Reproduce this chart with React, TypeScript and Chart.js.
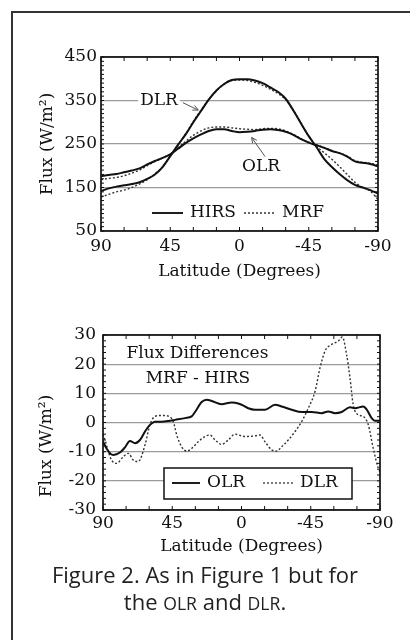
import React, { useEffect, useRef } from "react";
import { Chart, registerables } from "chart.js";

Chart.register(...registerables);

const SERIF = '"DejaVu Serif", "Liberation Serif", serif';
const INK = "#111";
const GRID = "#9b9b9b";
const DOT = "#333";

// ---------- top panel: fluxes (W/m2) vs latitude ----------
const latitudes = [
  90, 85, 80, 75, 70, 65, 60, 55, 50, 45, 40, 35, 30, 25, 20, 15, 10, 5, 0,
  -5, -10, -15, -20, -25, -30, -35, -40, -45, -50, -55, -60, -65, -70, -75, -80, -85, -90,
];
const dlrHirs = [
  142, 148, 152, 155, 158, 162, 170, 180, 197, 222, 248, 272, 300, 326, 352, 373, 388, 397, 399,
  399, 396, 390, 380, 370, 354, 327, 297, 268, 243, 216, 197, 181, 167, 156, 150, 144, 136,
];
const dlrMrf = [
  128, 134, 140, 144, 150, 158, 168, 181, 198, 222, 248, 273, 302, 328, 352, 372, 387, 396, 397,
  396, 392, 385, 376, 366, 352, 328, 298, 268, 245, 230, 215, 198, 180, 162, 150, 142, 122,
];
const olrHirs = [
  176, 179, 181, 185, 189, 194, 203, 211, 218, 226, 239, 252, 263, 272, 280, 284, 284, 280, 277,
  278, 280, 283, 284, 282, 278, 271, 261, 253, 247, 241, 234, 229, 221, 210, 207, 204, 199,
];
const olrMrf = [
  168, 171, 173, 177, 183, 190, 200, 210, 218, 227, 241, 256, 270, 280, 287, 289, 289, 287, 285,
  284, 283, 285, 286, 285, 280, 272, 262, 254, 248, 242, 235, 229, 222, 212, 208, 206, 201,
];

// ---------- bottom panel: MRF - HIRS differences ----------
const diffOlrLat = [
  90, 87.6, 85, 83.3, 79, 75.7, 72.5, 69.2, 66, 62.7, 59.5, 56.2, 51.9, 47.6, 43.2, 36.7, 32.4,
  30.2, 25.9, 22.6, 19.4, 12.9, 6.4, 4.2, -0.1, -4.4, -8.8, -15.3, -21.8, -26.1, -32.6, -39.1,
  -45.6, -52.1, -56.4, -60.7, -65.1, -70.5, -73.7, -79.1, -81.3, -84.6, -86.7, -90,
];
const diffOlr = [
  -6.5, -9, -10.8, -11.1, -10.3, -8.5, -6.3, -7.1, -6, -3.1, -0.8, 0.3, 0.3, 0.5, 0.9, 1.5, 2.1,
  3.6, 7, 7.8, 7.4, 6.3, 6.9, 6.8, 6.1, 4.9, 4.4, 4.4, 6.1, 5.5, 4.4, 3.6,
  3.6, 3.2, 3.8, 3.2, 3.6, 5.2, 4.9, 5.5, 4.5, 1.5, 0.6, 0.6,
];
const diffDlrLat = [
  90, 88.7, 86.5, 84.4, 81.1, 76.8, 73.5, 70.3, 67.1, 62.7, 59.5, 56.2, 51.9, 47.6, 44.3, 42.1,
  38.9, 35.6, 32.4, 28.1, 23.7, 20.5, 17.2, 12.9, 8.6, 4.2, -2.3, -8.8, -12, -15.3, -19.6, -22.9,
  -26.1, -30.4, -34.8, -39.1, -43.4, -47.8, -51, -54.3, -58.6, -62.9, -65.5, -68.3, -70.5, -72.6,
  -75.9, -79.1, -82.4, -85.6, -88.9, -90,
];
const diffDlr = [
  -4, -6, -10, -12.9, -14, -11.7, -10.6, -12.9, -13.4, -7.7, -0.8, 2.1, 2.4, 2.2, 0.3, -4.3,
  -8.3, -9.8, -8.9, -6.6, -4.8, -4.3, -6, -7.5, -6, -4, -4.8, -4.6, -4.3, -6.6, -9.4, -9.8,
  -8.3, -6, -3.1, 0.3, 4.9, 10.7, 18.7, 24.5, 26.8, 27.9, 29.3, 23.3, 15.3, 6.1,
  2.6, 2.1, -0.8, -8.9, -15.7, -17,
];

// ---------- ticks ----------
const latTicks = [90, 45, 0, -45, -90];
const topYTicks = [50, 150, 250, 350, 450];
const diffYTicks = [-30, -20, -10, 0, 10, 20, 30];

const pts = (xs: number[], ys: number[]) => xs.map((x, i) => ({ x, y: ys[i] }));
const font17 = { family: SERIF, size: 17 };

function range(a: number, b: number, s: number) {
  const r: number[] = [];
  for (let v = a; v <= b + 1e-9; v += s) r.push(v);
  return r;
}

const framePlugin = {
  id: "frame",
  afterDatasetsDraw(chart: any, _a: any, opts: any) {
    const { ctx, chartArea: a, scales } = chart;
    ctx.save();
    ctx.strokeStyle = INK;
    ctx.lineWidth = 1;
    ctx.beginPath();
    for (const v of opts.xMinor) {
      const px = scales.x.getPixelForValue(v);
      ctx.moveTo(px, a.bottom);
      ctx.lineTo(px, a.bottom - 4);
      ctx.moveTo(px, a.top);
      ctx.lineTo(px, a.top + 4);
    }
    for (const v of opts.yMinor) {
      const py = scales.y.getPixelForValue(v);
      ctx.moveTo(a.left, py);
      ctx.lineTo(a.left + 3, py);
      ctx.moveTo(a.right, py);
      ctx.lineTo(a.right - 3, py);
    }
    ctx.stroke();
    ctx.lineWidth = 1.7;
    ctx.strokeRect(a.left, a.top, a.right - a.left, a.bottom - a.top);
    ctx.restore();
  },
};

function arrow(ctx: any, x1: number, y1: number, x2: number, y2: number) {
  ctx.save();
  ctx.strokeStyle = "#555";
  ctx.lineWidth = 1;
  ctx.beginPath();
  ctx.moveTo(x1, y1);
  ctx.lineTo(x2, y2);
  const ang = Math.atan2(y2 - y1, x2 - x1);
  const h = 6;
  ctx.moveTo(x2 - h * Math.cos(ang - 0.45), y2 - h * Math.sin(ang - 0.45));
  ctx.lineTo(x2, y2);
  ctx.lineTo(x2 - h * Math.cos(ang + 0.45), y2 - h * Math.sin(ang + 0.45));
  ctx.stroke();
  ctx.restore();
}

function legendLine(ctx: any, x1: number, x2: number, y: number, dotted: boolean) {
  ctx.save();
  ctx.beginPath();
  ctx.strokeStyle = dotted ? DOT : INK;
  ctx.lineWidth = dotted ? 1.3 : 1.9;
  ctx.setLineDash(dotted ? [2, 2] : []);
  ctx.moveTo(x1, y);
  ctx.lineTo(x2, y);
  ctx.stroke();
  ctx.restore();
}

const topNotes = {
  id: "topNotes",
  afterDraw(chart: any) {
    const { ctx, chartArea: a, scales } = chart;
    const X = (v: number) => scales.x.getPixelForValue(v);
    const Y = (v: number) => scales.y.getPixelForValue(v);
    ctx.save();
    ctx.font = `17px ${SERIF}`;
    ctx.fillStyle = INK;
    ctx.textBaseline = "middle";
    ctx.textAlign = "center";
    // DLR label
    const dx = X(52.3), dy = Y(350);
    const dw = ctx.measureText("DLR").width;
    ctx.fillStyle = "#fff";
    ctx.fillRect(dx - dw / 2 - 2, dy - 9, dw + 4, 18);
    ctx.fillStyle = INK;
    ctx.fillText("DLR", dx, dy);
    arrow(ctx, X(36.8), Y(345), X(26.8), Y(328));
    // OLR label
    ctx.fillText("OLR", X(-14), Y(198));
    arrow(ctx, X(-16.6), Y(221), X(-7.9), Y(265));
    // legend
    const ly = a.top + 156;
    legendLine(ctx, a.left + 51, a.left + 82, ly, false);
    legendLine(ctx, a.left + 143, a.left + 174, ly, true);
    ctx.textAlign = "left";
    ctx.fillText("HIRS", a.left + 89, ly);
    ctx.fillText("MRF", a.left + 181, ly);
    ctx.restore();
  },
};

const bottomNotes = {
  id: "bottomNotes",
  afterDraw(chart: any) {
    const { ctx, chartArea: a, scales } = chart;
    const X = (v: number) => scales.x.getPixelForValue(v);
    const Y = (v: number) => scales.y.getPixelForValue(v);
    ctx.save();
    ctx.font = `17px ${SERIF}`;
    ctx.fillStyle = INK;
    ctx.textBaseline = "middle";
    ctx.textAlign = "center";
    ctx.fillText("Flux Differences", X(28.6), Y(23.8));
    ctx.fillText("MRF - HIRS", X(28.3), Y(14.9));
    // legend box
    const bx = a.left + 61, by = a.top + 133, bw = 188, bh = 31;
    ctx.fillStyle = "#fff";
    ctx.fillRect(bx, by, bw, bh);
    ctx.strokeStyle = INK;
    ctx.lineWidth = 1.5;
    ctx.strokeRect(bx, by, bw, bh);
    const ly = by + 15;
    legendLine(ctx, a.left + 69, a.left + 97, ly, false);
    legendLine(ctx, a.left + 160, a.left + 190, ly, true);
    ctx.fillStyle = INK;
    ctx.textAlign = "left";
    ctx.fillText("OLR", a.left + 104, ly);
    ctx.fillText("DLR", a.left + 197, ly);
    // y axis title
    ctx.translate(47, a.top + 111);
    ctx.rotate(-Math.PI / 2);
    ctx.textAlign = "center";
    ctx.fillText("Flux (W/m²)", 0, 0);
    ctx.restore();
  },
};

function solid(data: any[]) {
  return {
    data,
    borderColor: INK,
    borderWidth: 2,
    pointRadius: 0,
    cubicInterpolationMode: "monotone",
    fill: false,
  };
}
function dotted(data: any[]) {
  return {
    data,
    borderColor: DOT,
    borderWidth: 1.4,
    borderDash: [2, 2],
    pointRadius: 0,
    cubicInterpolationMode: "monotone",
    fill: false,
  };
}

function xScale(height: number, tickPad: number, titlePad: number) {
  return {
    type: "linear",
    min: -90,
    max: 90,
    reverse: true,
    afterBuildTicks: (s: any) => {
      s.ticks = latTicks.map((v) => ({ value: v }));
    },
    afterFit: (s: any) => {
      s.height = height;
    },
    grid: { display: false, drawTicks: false },
    border: { display: false },
    ticks: { color: INK, font: font17, padding: tickPad, maxRotation: 0, autoSkip: false },
    title: {
      display: true,
      text: "Latitude (Degrees)",
      color: INK,
      font: font17,
      padding: { top: 0, bottom: titlePad },
    },
  };
}

function ChartCanvas({ config, top }: { config: any; top: number }) {
  const ref = useRef<HTMLCanvasElement | null>(null);
  useEffect(() => {
    const chart = new Chart(ref.current as HTMLCanvasElement, config);
    return () => chart.destroy();
  }, []);
  return (
    <canvas
      ref={ref}
      width={410}
      height={260}
      style={{ position: "absolute", left: 0, top, width: 410, height: 260 }}
    />
  );
}

const topConfig = {
  type: "line",
  data: {
    datasets: [
      solid(pts(latitudes, dlrHirs)),
      dotted(pts(latitudes, dlrMrf)),
      solid(pts(latitudes, olrHirs)),
      dotted(pts(latitudes, olrMrf)),
    ],
  },
  options: {
    responsive: false,
    devicePixelRatio: 1,
    animation: false,
    layout: { padding: { left: 0, right: 32, top: 27, bottom: 0 } },
    plugins: {
      legend: { display: false },
      tooltip: { enabled: false },
      frame: { xMinor: range(-90, 90, 15), yMinor: range(50, 450, 10) },
    },
    scales: {
      x: xScale(59, 5, 8),
      y: {
        type: "linear",
        min: 50,
        max: 450,
        afterBuildTicks: (s: any) => {
          s.ticks = topYTicks.map((v) => ({ value: v }));
        },
        afterFit: (s: any) => {
          s.width = 101;
        },
        grid: { color: GRID, lineWidth: 1.3, drawTicks: false },
        border: { display: false },
        ticks: { color: INK, font: font17, padding: 4 },
        title: {
          display: true,
          text: "Flux (W/m²)",
          color: INK,
          font: font17,
          padding: { top: 37, bottom: 0 },
        },
      },
    },
  },
  plugins: [framePlugin, topNotes],
};

const bottomConfig = {
  type: "line",
  data: {
    datasets: [solid(pts(diffOlrLat, diffOlr)), dotted(pts(diffDlrLat, diffDlr))],
  },
  options: {
    responsive: false,
    devicePixelRatio: 1,
    animation: false,
    layout: { padding: { left: 0, right: 30, top: 35, bottom: 0 } },
    plugins: {
      legend: { display: false },
      tooltip: { enabled: false },
      frame: { xMinor: range(-90, 90, 15), yMinor: range(-30, 30, 2) },
    },
    scales: {
      x: xScale(50, 3, 3),
      y: {
        type: "linear",
        min: -30,
        max: 30,
        afterBuildTicks: (s: any) => {
          s.ticks = diffYTicks.map((v) => ({ value: v }));
        },
        afterFit: (s: any) => {
          s.width = 103;
        },
        grid: { color: GRID, lineWidth: 1.3, drawTicks: false },
        border: { display: false },
        ticks: { color: INK, font: font17, padding: 7 },
      },
    },
  },
  plugins: [framePlugin, bottomNotes],
};

export default function App() {
  return (
    <div
      style={{
        position: "absolute",
        left: 0,
        top: 0,
        width: 410,
        height: 640,
        overflow: "hidden",
        background: "#fff",
      }}
    >
      <div
        style={{
          position: "absolute",
          left: 11,
          top: 11,
          width: 420,
          height: 650,
          borderLeft: "2px solid #333",
          borderTop: "2px solid #333",
        }}
      />
      <ChartCanvas config={topConfig} top={30} />
      <ChartCanvas config={bottomConfig} top={300} />
      <div
        style={{
          position: "absolute",
          left: 0,
          top: 561,
          width: 410,
          textAlign: "center",
          fontFamily: '"Open Sans", "Noto Sans", sans-serif',
          fontSize: 22,
          lineHeight: "27px",
          color: "#222",
        }}
      >
        Figure 2. As in Figure 1 but for
        <br />
        the <span style={{ fontSize: "0.8em" }}>OLR</span> and{" "}
        <span style={{ fontSize: "0.8em" }}>DLR</span>.
      </div>
    </div>
  );
}
